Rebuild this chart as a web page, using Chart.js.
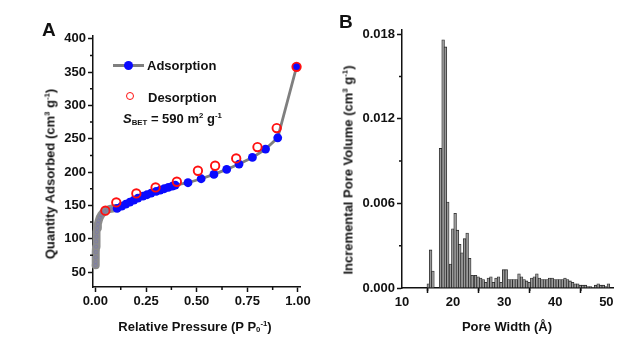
<!DOCTYPE html>
<html lang="en">
<head>
    <meta charset="UTF-8">
    <title>Isotherm and Pore Size</title>
    <style>
        body {
            margin: 0;
            background: white;
            font-family: "Liberation Sans", Arial, sans-serif;
            font-weight: bold;
            color: #111;
        }
        #wrap {
            position: relative;
            width: 630px;
            height: 353px;
        }
        canvas {
            position: absolute;
            top: 0;
        }
        #iso { left: 0; }
        #psd { left: 320px; }
        .txt {
            position: absolute;
            white-space: nowrap;
            font-size: 13px;
            line-height: 1;
        }
        .panel { font-size: 19px; }
        .ytitle { transform: translate(-50%, -50%) rotate(-90deg); }
        .xtitle { transform: translate(-50%, -50%); }
        sup, sub { font-size: 0.6em; line-height: 0; }
        sup { vertical-align: 0.6em; }
        sub { vertical-align: -0.25em; }
        .legline {
            position: absolute;
            left: 113px; top: 64px;
            width: 31px; height: 3px;
            background: #7f7f7f;
        }
        .legdot {
            position: absolute;
            width: 9px; height: 9px;
            border-radius: 50%;
        }
    </style>
    <script src="https://cdn.jsdelivr.net/npm/chart.js"></script>
</head>
<body>
<div id="wrap">
    <canvas id="iso" width="320" height="353"></canvas>
    <canvas id="psd" width="310" height="353"></canvas>

    <div class="txt panel" style="left:42px;top:20px">A</div>
    <div class="txt panel" style="left:339px;top:12px">B</div>

    <!-- legend of panel A -->
    <div class="legline"></div>
    <div class="legdot" style="left:124px;top:61px;background:#0a0aff"></div>
    <div class="txt" style="left:147px;top:59px">Adsorption</div>
    <div class="legdot" style="left:126px;top:92px;width:6px;height:6px;border:1.8px solid #ff1010"></div>
    <div class="txt" style="left:148px;top:91px">Desorption</div>
    <div class="txt" style="left:123px;top:112px"><i>S</i><sub>BET</sub> = 590 m<sup>2</sup> g<sup>-1</sup></div>

    <!-- axis titles -->
    <div class="txt ytitle" style="left:50px;top:174px">Quantity Adsorbed (cm<sup>3</sup> g<sup>-1</sup>)</div>
    <div class="txt xtitle" style="left:195px;top:326px">Relative Pressure (P P<sub>0</sub><sup>-1</sup>)</div>
    <div class="txt ytitle" style="left:348px;top:170px">Incremental Pore Volume (cm<sup>3</sup> g<sup>-1</sup>)</div>
    <div class="txt xtitle" style="left:507px;top:326px">Pore Width (Å)</div>
</div>

<script>
    // ---- panel A: N2 isotherm ----
    // low pressure part of the adsorption branch (dense points, thick grey band)
    const adsLowP = [0.0005, 0.001, 0.0015, 0.002, 0.003, 0.004, 0.005, 0.007, 0.009, 0.012,
                     0.016, 0.021, 0.028, 0.036, 0.045, 0.056, 0.07, 0.085, 0.1];
    const adsLowV = [60, 65, 72, 80, 88, 96, 103, 110, 116, 122,
                     127, 131.5, 135.5, 138.5, 141, 143, 144.5, 145.3, 146];

    const adsP = [0.107, 0.13, 0.15, 0.17, 0.19, 0.21, 0.235, 0.255, 0.275, 0.30, 0.32, 0.34, 0.36,
                  0.38, 0.394, 0.457, 0.522, 0.585, 0.648, 0.709, 0.775, 0.84, 0.90, 0.993];
    const adsV = [145.5, 149, 152, 155, 158, 161, 164, 166, 168.5, 171, 173, 175, 177,
                  179, 180.5, 184, 190, 196.5, 204, 212, 222, 234.5, 251.5, 358];

    const desP = [0.049, 0.103, 0.202, 0.297, 0.402, 0.506, 0.591, 0.695, 0.80, 0.895, 0.993];
    const desV = [142, 154.5, 168, 177, 185.5, 202, 209.5, 220.5, 237.5, 266, 358];

    const isoXTicks = [0, 0.25, 0.5, 0.75, 1.0];
    const isoXMinor = [0.125, 0.375, 0.625, 0.875];
    const isoYTicks = [50, 100, 150, 200, 250, 300, 350, 400];
    const isoYMinor = [75, 125, 175, 225, 275, 325, 375];

    // ---- panel B: pore size distribution ----
    const poreWidth = [15.15, 15.6, 16.05, 17.55, 18.05, 18.5, 18.95, 19.5, 19.95, 20.4,
                       20.85, 21.3, 21.75, 22.25, 22.75, 23.25, 23.75, 24.4, 24.9, 25.4,
                       25.9, 26.4, 26.9, 27.4, 27.9, 28.4, 28.9, 29.4, 29.9, 30.4,
                       30.9, 31.4, 31.9, 32.4, 32.9, 33.4, 33.9, 34.4, 34.9, 35.4,
                       35.9, 36.4, 36.9, 37.4, 37.9, 38.4, 38.9, 39.4, 39.9, 40.4,
                       40.9, 41.4, 41.9, 42.4, 42.9, 43.4, 43.9, 44.4, 44.9, 45.4,
                       45.9, 46.4, 46.9, 47.4, 47.9, 48.4, 48.9, 49.4, 49.9, 50.4];
    const poreVolume = [0.0003, 0.0027, 0.0012, 0.0099, 0.0176, 0.0171, 0.0061, 0.0017, 0.0042, 0.0053,
                        0.0041, 0.0031, 0.0025, 0.0035, 0.0039, 0.0021, 0.0009, 0.0009, 0.0008, 0.0007,
                        0.0006, 0.0004, 0.0007, 0.0008, 0.0004, 0.0007, 0.0008, 0.0004, 0.0013, 0.0013,
                        0.0006, 0.0006, 0.0006, 0.0006, 0.0010, 0.0008, 0.0006, 0.0005, 0.0004, 0.0007,
                        0.0008, 0.0010, 0.0007, 0.0006, 0.0006, 0.0006, 0.0007, 0.0007, 0.0006, 0.0006,
                        0.0006, 0.0006, 0.0007, 0.0006, 0.0005, 0.0004, 0.0003, 0.0003, 0.0002, 0.0002,
                        0.0002, 0.0001, 0.0001, 0.00005, 0.0002, 0.0003, 0.0002, 0.0002, 0.0001, 0.0003];

    const psdXTicks = [10, 20, 30, 40, 50];
    const psdXMinor = [15, 25, 35, 45];
    const psdYTicks = [0, 0.006, 0.012, 0.018];
    const psdYMinor = [0.003, 0.009, 0.015];

    const pts = (xs, ys) => xs.map((x, i) => ({x: x, y: ys[i]}));

    Chart.defaults.font.family = '"Liberation Sans", Arial, sans-serif';
    Chart.defaults.font.size = 13;
    Chart.defaults.font.weight = 'bold';
    Chart.defaults.color = '#111';

    // small outward ticks between the labelled ones
    const minorTicks = {
        id: 'minorTicks',
        afterDraw(chart, args, opts) {
            const {ctx, chartArea, scales} = chart;
            ctx.save();
            ctx.strokeStyle = '#111';
            ctx.lineWidth = 1.5;
            ctx.beginPath();
            (opts.x || []).forEach(v => {
                const px = scales.x.getPixelForValue(v);
                ctx.moveTo(px, chartArea.bottom);
                ctx.lineTo(px, chartArea.bottom + 3);
            });
            (opts.y || []).forEach(v => {
                const py = scales.y.getPixelForValue(v);
                ctx.moveTo(chartArea.left, py);
                ctx.lineTo(chartArea.left - 3, py);
            });
            ctx.stroke();
            ctx.restore();
        }
    };

    function axis(extra) {
        return Object.assign({
            type: 'linear',
            grid: {display: true, drawOnChartArea: false, drawTicks: true,
                   tickLength: 5, tickWidth: 1.5, tickColor: '#111'},
            border: {display: true, color: '#111', width: 1.5},
            title: {display: false}
        }, extra);
    }

    new Chart(document.getElementById('iso'), {
        type: 'scatter',
        data: {
            datasets: [
                {
                    label: 'Desorption',
                    data: pts(desP, desV),
                    showLine: false,
                    pointRadius: 4.2,
                    pointBorderWidth: 1.9,
                    pointBorderColor: '#ff1010',
                    pointBackgroundColor: 'rgba(0,0,0,0)',
                    clip: false
                },
                {
                    label: 'Adsorption',
                    data: pts(adsP, adsV),
                    showLine: true,
                    borderColor: '#7f7f7f',
                    borderWidth: 2.8,
                    pointRadius: 4.4,
                    pointBorderWidth: 0,
                    pointBackgroundColor: '#0a0aff',
                    clip: false
                },
                {
                    label: 'Adsorption (low P)',
                    data: pts(adsLowP, adsLowV),
                    showLine: true,
                    borderColor: '#8c8c8c',
                    borderWidth: 8,
                    borderCapStyle: 'round',
                    borderJoinStyle: 'round',
                    pointRadius: 1.6,
                    pointBorderWidth: 0.7,
                    pointBorderColor: 'rgba(80,80,240,0.3)',
                    pointBackgroundColor: 'rgba(0,0,0,0)',
                    clip: false
                }
            ]
        },
        options: {
            responsive: false,
            animation: false,
            devicePixelRatio: 1,
            layout: {padding: {left: 0, right: 20, top: 35.5, bottom: 0}},
            plugins: {
                legend: {display: false},
                tooltip: {enabled: false},
                minorTicks: {x: isoXMinor, y: isoYMinor}
            },
            scales: {
                x: axis({
                    min: -0.012, max: 1.01,
                    afterBuildTicks: s => { s.ticks = isoXTicks.map(v => ({value: v})); },
                    afterFit: s => { s.height = 66; },
                    ticks: {padding: 2, maxRotation: 0, callback: v => v.toFixed(2)}
                }),
                y: axis({
                    min: 27.5, max: 405,
                    afterBuildTicks: s => { s.ticks = isoYTicks.map(v => ({value: v})); },
                    afterFit: s => { s.width = 93; },
                    ticks: {padding: 2, callback: v => String(v)}
                })
            }
        },
        plugins: [minorTicks]
    });

    new Chart(document.getElementById('psd'), {
        type: 'bar',
        data: {
            datasets: [{
                label: 'Incremental Pore Volume',
                data: pts(poreWidth, poreVolume),
                backgroundColor: '#999999',
                borderColor: '#262626',
                borderWidth: 0.8,
                barThickness: 2.7
            }]
        },
        options: {
            responsive: false,
            animation: false,
            devicePixelRatio: 1,
            layout: {padding: {left: 0, right: 17, top: 30, bottom: 0}},
            plugins: {
                legend: {display: false},
                tooltip: {enabled: false},
                minorTicks: {x: psdXMinor, y: psdYMinor}
            },
            scales: {
                x: axis({
                    min: 10, max: 51.3,
                    offset: false,
                    afterBuildTicks: s => { s.ticks = psdXTicks.map(v => ({value: v})); },
                    afterFit: s => { s.height = 65; },
                    ticks: {padding: 2, maxRotation: 0, callback: v => String(v)}
                }),
                y: axis({
                    min: 0, max: 0.0183,
                    afterBuildTicks: s => { s.ticks = psdYTicks.map(v => ({value: v})); },
                    afterFit: s => { s.width = 82; },
                    ticks: {padding: 2, callback: v => v.toFixed(3)}
                })
            }
        },
        plugins: [minorTicks]
    });
</script>
</body>
</html>
